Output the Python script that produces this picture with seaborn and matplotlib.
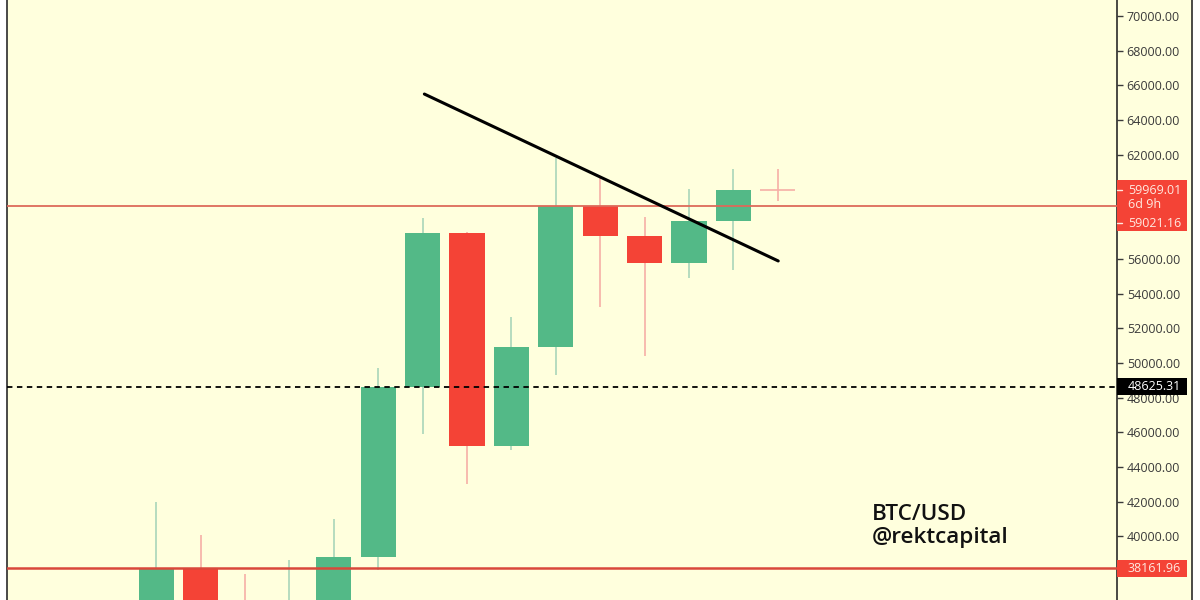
import numpy as np
import pandas as pd
import seaborn as sns
import matplotlib.pyplot as plt
from matplotlib.patches import Rectangle

# weekly candles, first ones run below the bottom edge
idx = [0, 1, 2, 3, 4, 5, 6, 7, 8, 9, 10, 11, 12, 13, 14]
opens = [34000, 38160, 35500, 34500, 35800, 38820, 48625, 57490, 45216, 50922, 59021, 57320, 55763, 58184, 59969]
closes = [38160, 35500, 34500, 35800, 38820, 48625, 57490, 45216, 50922, 59021, 57320, 55763, 58184, 59969, 59969.01]
highs = [41990, 40090, 37840, 38650, 41010, 49710, 58360, 57560, 52650, 61820, 60660, 58420, 60030, 61180, 61180]
lows = [33000, 34000, 33500, 33800, 35000, 38070, 45910, 43030, 44990, 49310, 53230, 50400, 54900, 55360, 59340]

trend_x = [6.04, 14.01]
trend_y = [65500, 55880]

support = 38161.96
resistance = 59021.16
midline = 48625.31
last_price = 59969.01
countdown = "6d 9h"
# 38000, 58000 and 60000 sit behind the price tags
yticks = [40000, 42000, 44000, 46000, 48000, 50000, 52000, 54000, 56000, 62000, 64000, 66000, 68000, 70000]

BG = "#FFFFDD"
GREEN = "#53B987"
RED = "#F44336"
GREEN_WICK = "#A9D6BA"
RED_WICK = "#F6AFA6"
LINE_RED = "#DD6A5A"
TXT = "#3A3A3A"
TAG_TXT = "#FFE9E0"

sns.set_theme(style="white")
plt.rcParams["font.family"] = ["Open Sans", "DejaVu Sans"]

df = pd.DataFrame({"i": idx, "open": opens, "close": closes, "high": highs, "low": lows})
df["up"] = df["close"] >= df["open"]
df["bottom"] = df[["open", "close"]].min(axis=1)
df["size"] = (df["open"] - df["close"]).abs()
# last candle is a doji, it gets drawn as a cross
bodies = df[df["i"] < 14]

fig = plt.figure(figsize=(12, 6), dpi=100, facecolor="white")
fig.add_artist(Rectangle((7 / 1200, 0), 1185 / 1200, 1, transform=fig.transFigure, facecolor=BG, edgecolor="none", zorder=-5))
ax = fig.add_axes([7 / 1200, 0, 1110 / 1200, 1])
ax.set_facecolor("none")

# wicks
for _, r in df.iterrows():
    ax.vlines(r["i"], r["low"], r["high"], color=GREEN_WICK if r["up"] and r["i"] < 14 else RED_WICK, lw=1.2, zorder=1)

up = bodies[bodies["up"]]
down = bodies[~bodies["up"]]
sns.barplot(data=up, x="i", y="size", bottom=up["bottom"].values, native_scale=True, color=GREEN, saturation=1,
            width=0.79, linewidth=0, ax=ax, legend=False, zorder=2, errorbar=None)
sns.barplot(data=down, x="i", y="size", bottom=down["bottom"].values, native_scale=True, color=RED, saturation=1,
            width=0.79, linewidth=0, ax=ax, legend=False, zorder=2, errorbar=None)
ax.hlines(last_price, 14 - 0.39, 14 + 0.39, color=RED_WICK, lw=1.2, zorder=2)

ax.axhline(resistance, color=LINE_RED, lw=1.3, zorder=3)
ax.axhline(support, color="#D9483B", lw=1.8, zorder=3)
ax.axhline(midline, color="black", lw=1.3, ls=(0, (3, 2.5)), zorder=3)
sns.lineplot(x=trend_x, y=trend_y, color="black", lw=2.2, ax=ax, zorder=4)

ax.set_xlim(-3.36, 21.64)
ax.set_ylim(36340, 70920)
ax.set_xlabel("")
ax.set_ylabel("")
ax.set_xticks([])
ax.yaxis.tick_right()
ax.set_yticks(yticks)
ax.set_yticklabels([f"{v:.2f}" for v in yticks], fontsize=9, color=TXT)
ax.tick_params(axis="y", length=4, width=1, color=TXT, pad=3, right=True)
for s in ["top", "bottom"]:
    ax.spines[s].set_visible(False)
for s in ["left", "right"]:
    ax.spines[s].set_visible(True)
    ax.spines[s].set_color("#2A2A2A")
    ax.spines[s].set_linewidth(1.2)
fig.add_artist(plt.Line2D([1192 / 1200, 1192 / 1200], [0, 1], color="#2A2A2A", lw=1.2))

# price tags on the scale
tr = ax.get_yaxis_transform()
tag_w = 70 / 1110
px = (70920 - 36340) / 600
ax.add_patch(Rectangle((1, resistance - 25 * px), tag_w, 51 * px, transform=tr, facecolor=RED, edgecolor="none", clip_on=False, zorder=5))
ax.add_patch(Rectangle((1, support - 9 * px), tag_w, 17 * px, transform=tr, facecolor=RED, edgecolor="none", clip_on=False, zorder=5))
ax.add_patch(Rectangle((1, midline - 8.5 * px), tag_w, 17 * px, transform=tr, facecolor="black", edgecolor="none", clip_on=False, zorder=5))
tag_x = 1 + 11 / 1110
for val, txt, col in [(last_price, f"{last_price:.2f}", TAG_TXT), (resistance + 2 * px, countdown, TAG_TXT),
                      (resistance - 17 * px, f"{resistance:.2f}", TAG_TXT), (support, f"{support:.2f}", TAG_TXT),
                      (midline, f"{midline:.2f}", "white")]:
    ax.text(tag_x, val, txt, transform=tr, fontsize=9, color=col, va="center", ha="left", zorder=6, clip_on=False)
for val in [last_price, resistance - 17 * px]:
    ax.plot([1, 1 + 5 / 1110], [val, val], transform=tr, color=TAG_TXT, lw=1, clip_on=False, zorder=6)

fig.text(872 / 1200, 1 - 514 / 600, "BTC/USD", fontsize=16.2, color="#111111", va="center", ha="left", fontweight="semibold")
fig.text(872 / 1200, 1 - 537 / 600, "@rektcapital", fontsize=16.2, color="#111111", va="center", ha="left", fontweight="semibold")

fig.savefig("out.png", dpi=100, facecolor="white")
